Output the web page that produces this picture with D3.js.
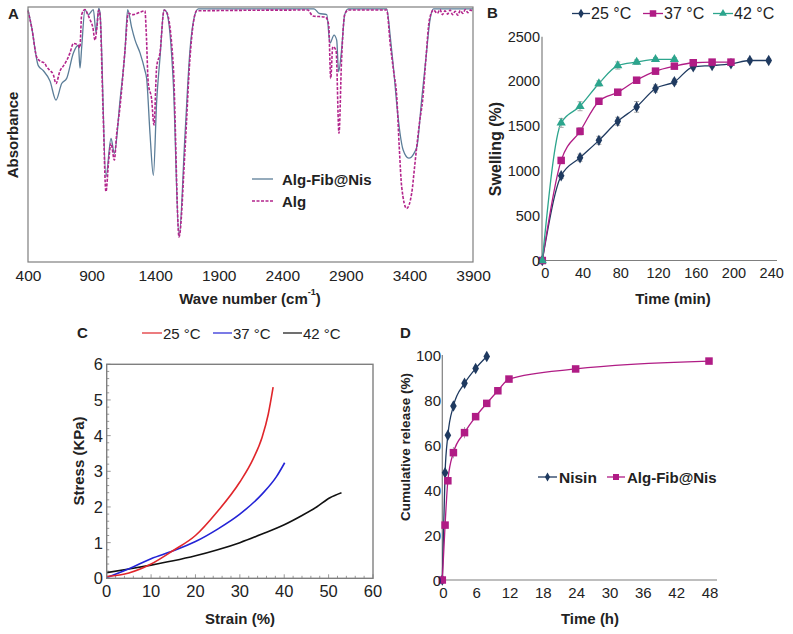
<!DOCTYPE html>
<html><head><meta charset="utf-8">
<script src="https://cdn.jsdelivr.net/npm/d3@7"></script>
<style>
body{margin:0;background:#fff;}
svg{display:block;font-family:"Liberation Sans",Arial,sans-serif;}
</style></head>
<body>
<svg id="chart" width="793" height="634"></svg>
<script>
// ---------- Panel A data (FTIR) ----------
const wnTicks = [400, 900, 1400, 1900, 2400, 2900, 3400, 3900];
const wnFib = [400,429,481,521,573,620,665,704,757,796,809,822,848,874,914,935,956,966,1013,1053,1079,1124,1163,1184,1215,1242,1281,1320,1333,1360,1386,1412,1438,1470,1490,1543,1588,1635,1674,1713,1740,2650,2690,2750,2775,2807,2828,2843,2866,2891,2919,3221,3250,3275,3300,3326,3350,3395,3440,3460,3496,3530,3562,3589,3900];
const absFib = [99,92,77,75,71,63.5,70,72,82,85,76,84,99,97,99,90,99.5,98,33.5,48.5,42.6,63.5,83,99,92,87,82,75,72,50,34,63,80,99,98,70,10,50,83,97,99.3,99.3,97.5,97,85.8,89,87,74.6,83,97,99.3,99.3,88,76,62,50.5,44,40.7,43,45.5,63.5,80,95,99.3,99.3];
const wnAlg = [400,429,468,490,507,530,547,575,599,620,652,680,704,730,757,796,808,822,848,870,888,910,927,942,956,966,990,1013,1035,1053,1079,1097,1124,1163,1189,1228,1281,1320,1330,1346,1372,1391,1412,1438,1470,1490,1543,1588,1635,1674,1727,2600,2640,2740,2765,2781,2797,2823,2846,2866,2891,2919,3221,3250,3275,3300,3320,3339,3378,3418,3440,3457,3480,3504,3530,3557,3589,3620,3640,3660,3680,3700,3720,3740,3760,3780,3800,3820,3840,3860,3880,3900];
const absAlg = [98.5,92,80.4,79,78.5,78,76.5,75,73.5,70,75,77,79,82,85.7,85,84,97,99,97,95,92,87,92,98.7,97,60,27.6,40,46.5,40,50,61,83,97.5,97,98,98.5,90,70,64,53.7,76.5,82,98.7,98,76.5,9.8,44,80,98.5,98.8,96.5,96,93,72,84.4,83,50.5,79,97,98.8,98.8,85,75,65,45,29.5,21,27,37,45,55,63.5,80,95,98.8,97.5,99,97,98.5,97.2,98.8,97,98.3,96.8,98.6,97.5,99,97.8,98.8,98];

// ---------- Panel B data (swelling) ----------
const swellTicksX = [0, 40, 80, 120, 160, 200, 240];
const swellTicksY = [0, 500, 1000, 1500, 2000, 2500];
const t25 = [0,20,40,60,80,100,120,140,160,180,200,220,240];
const sw25 = [0,946,1148,1342,1555,1716,1921,1996,2164,2178,2197,2234,2234];
const err25 = [0,30,40,45,45,60,40,30,25,20,20,20,20];
const t37 = [0,20,40,60,80,100,120,140,160,180,200];
const sw37 = [0,1118,1443,1779,1880,2014,2115,2171,2209,2216,2216];
const err37 = [0,30,40,30,30,30,30,25,25,25,25];
const t42 = [0,20,40,60,80,100,120,140];
const sw42 = [0,1537,1723,1977,2178,2216,2246,2246];
const err42 = [0,50,50,30,40,25,20,20];

// ---------- Panel C data (stress-strain) ----------
const strainTicks = [0, 10, 20, 30, 40, 50, 60];
const stressTicks = [0, 1, 2, 3, 4, 5, 6];
const strain25 = [0,5,10,15,20,25,30,33,35,36.4,37.5];
const stress25 = [0.05,0.15,0.4,0.78,1.2,1.88,2.7,3.35,3.95,4.6,5.36];
const strain37 = [0,5,10,15,20,25,30,35,38.25,40.1];
const stress37 = [0.02,0.27,0.55,0.77,1.03,1.38,1.8,2.36,2.85,3.24];
const strain42 = [0,5,10,15,20,25,30,35,40,44,47.3,50.3,52.9];
const stress42 = [0.16,0.26,0.37,0.49,0.63,0.8,1.0,1.24,1.5,1.76,2.0,2.26,2.4];

// ---------- Panel D data (release) ----------
const relTicksX = [0, 6, 12, 18, 24, 30, 36, 42, 48];
const relTicksY = [0, 20, 40, 60, 80, 100];
const tNis = [0,0.5,1,2,4,6,8];
const relNis = [0,47.7,64.3,77.3,87.4,94,99.3];
const errNis = [0,1,1,1,1,1,0.5];
const tFib = [0,0.5,1,2,4,6,8,10,12,24,48];
const relFib = [0,24.4,44.1,56.6,65.5,72.6,78.5,84.1,89.3,93.8,97.3];
const errFib = [0,1,1.5,2.5,2.5,1.5,1,1,1,0.5,0.5];

const svg = d3.select("#chart");
const FONT = '"Liberation Sans",Arial,sans-serif';
const gray = "#7f7f7f";
const C_NAVY = "#1f3a60", C_MAG = "#b01c85", C_TEAL = "#2ca58d";
const C_FIB = "#5b7d98", C_ALG = "#b3258c";

function txt(x, y, s, size, opts = {}) {
  const t = svg.append("text").attr("x", x).attr("y", y).text(s)
    .attr("font-size", size).attr("fill", opts.fill || "#222")
    .attr("font-weight", opts.bold ? "bold" : "normal")
    .attr("text-anchor", opts.anchor || "start")
    .attr("dominant-baseline", "central");
  if (opts.rotate) t.attr("transform", `rotate(-90,${x},${y})`);
  return t;
}
function zip(a, b) { return a.map((v, i) => [v, b[i]]); }

function marker(g, shape, x, y, color, size) {
  if (shape === "diamond") {
    g.append("path").attr("d", d3.symbol(d3.symbolDiamond, size * size * 0.9)())
      .attr("transform", `translate(${x},${y})`).attr("fill", color);
  } else if (shape === "square") {
    g.append("rect").attr("x", x - size / 2).attr("y", y - size / 2)
      .attr("width", size).attr("height", size).attr("fill", color);
  } else {
    g.append("path").attr("d", d3.symbol(d3.symbolTriangle, size * size * 0.75)())
      .attr("transform", `translate(${x},${y})`).attr("fill", color);
  }
}

// ================= Panel A =================
{
  const x = d3.scaleLinear().domain([400, 3900]).range([28, 473]);
  const y = d3.scaleLinear().domain([0, 100]).range([262, 7]);
  const line = d3.line().x(d => x(d[0])).y(d => y(d[1])).curve(d3.curveMonotoneX);
  const g = svg.append("g");
  g.append("path").datum(zip(wnFib, absFib)).attr("d", line)
    .attr("fill", "none").attr("stroke", C_FIB).attr("stroke-width", 1.3);
  g.append("path").datum(zip(wnAlg, absAlg)).attr("d", line)
    .attr("fill", "none").attr("stroke", C_ALG).attr("stroke-width", 1.6)
    .attr("stroke-dasharray", "3 1.5");
  g.append("rect").attr("x", 28).attr("y", 7).attr("width", 445).attr("height", 255)
    .attr("fill", "none").attr("stroke", gray).attr("stroke-width", 1.2);
  const ax = svg.append("g").attr("transform", "translate(0,262)")
    .call(d3.axisBottom(x).tickValues(wnTicks).tickFormat(d3.format("d")).tickSize(0).tickPadding(0));
  ax.select(".domain").remove();
  ax.selectAll("text").attr("font-size", 15.5).attr("font-family", FONT).attr("fill", "#222")
    .attr("dy", null).attr("y", 13).attr("dominant-baseline", "central");
  const tt = txt(250, 298, "Wave number (cm", 15, { bold: true, anchor: "middle" });
  tt.append("tspan").text("-1").attr("font-size", 9).attr("dy", -6);
  tt.append("tspan").text(")").attr("dy", 6);
  txt(12, 135, "Absorbance", 15, { bold: true, anchor: "middle", rotate: true });
  txt(8, 13, "A", 15, { bold: true });
  // legend
  svg.append("line").attr("x1", 252).attr("x2", 273).attr("y1", 179).attr("y2", 179)
    .attr("stroke", C_FIB).attr("stroke-width", 1.3);
  svg.append("line").attr("x1", 252).attr("x2", 273).attr("y1", 201).attr("y2", 201)
    .attr("stroke", C_ALG).attr("stroke-width", 1.6).attr("stroke-dasharray", "3 1.5");
  txt(282, 179, "Alg-Fib@Nis", 15, { bold: true });
  txt(282, 201, "Alg", 15, { bold: true });
}

// ================= Panel B =================
{
  const x = d3.scaleLinear().domain([0, 240]).range([542.3, 768.7]);
  const y = d3.scaleLinear().domain([0, 2500]).range([260.5, 36.7]);
  const line = d3.line().x(d => x(d[0])).y(d => y(d[1])).curve(d3.curveMonotoneX);
  const g = svg.append("g");
  g.append("line").attr("x1", 542).attr("x2", 542).attr("y1", 36.7).attr("y2", 260.5).attr("stroke", gray).attr("stroke-width", 1.2);
  g.append("line").attr("x1", 542).attr("x2", 777).attr("y1", 260.5).attr("y2", 260.5).attr("stroke", gray).attr("stroke-width", 1.2);
  const series = [
    { t: t25, v: sw25, e: err25, c: C_NAVY, s: "diamond", sz: 6.5 },
    { t: t37, v: sw37, e: err37, c: C_MAG, s: "square", sz: 7.5 },
    { t: t42, v: sw42, e: err42, c: C_TEAL, s: "triangle", sz: 7 },
  ];
  series.forEach(se => {
    g.append("path").datum(zip(se.t, se.v)).attr("d", line).attr("fill", "none")
      .attr("stroke", se.c).attr("stroke-width", 1.3);
    se.t.forEach((t, i) => {
      if (se.e[i] > 0) {
        g.append("line").attr("x1", x(t)).attr("x2", x(t)).attr("y1", y(se.v[i] - se.e[i])).attr("y2", y(se.v[i] + se.e[i]))
          .attr("stroke", "#aaa").attr("stroke-width", 1);
        [se.v[i] - se.e[i], se.v[i] + se.e[i]].forEach(vv =>
          g.append("line").attr("x1", x(t) - 2.5).attr("x2", x(t) + 2.5).attr("y1", y(vv)).attr("y2", y(vv))
            .attr("stroke", "#aaa").attr("stroke-width", 1));
      }
    });
    se.t.forEach((t, i) => marker(g, se.s, x(t), y(se.v[i]), se.c, se.sz));
  });
  swellTicksX.forEach(t => txt(x(t) + 3, 273, String(t), 14.5, { anchor: "middle" }));
  swellTicksY.forEach(v => txt(540, y(v), String(v), 14.5, { anchor: "end" }));
  txt(673, 298, "Time (min)", 15, { bold: true, anchor: "middle" });
  txt(495, 149, "Swelling (%)", 16, { bold: true, anchor: "middle", rotate: true });
  txt(487, 12, "B", 15, { bold: true });
  const leg = [
    { x1: 572, x2: 590, c: C_NAVY, s: "diamond", sz: 5.5, label: "25 °C" },
    { x1: 643, x2: 663, c: C_MAG, s: "square", sz: 6.5, label: "37 °C" },
    { x1: 713, x2: 733, c: C_TEAL, s: "triangle", sz: 6, label: "42 °C" },
  ];
  leg.forEach(l => {
    svg.append("line").attr("x1", l.x1).attr("x2", l.x2).attr("y1", 13.5).attr("y2", 13.5).attr("stroke", l.c).attr("stroke-width", 1.3);
    marker(svg, l.s, (l.x1 + l.x2) / 2, 13.5, l.c, l.sz);
    txt(l.x2 + 1, 13.5, l.label, 16);
  });
}

// ================= Panel C =================
{
  const x = d3.scaleLinear().domain([0, 60]).range([106.7, 373]);
  const y = d3.scaleLinear().domain([0, 6]).range([578.3, 364.3]);
  const line = d3.line().x(d => x(d[0])).y(d => y(d[1])).curve(d3.curveMonotoneX);
  const g = svg.append("g");
  d3.range(0, 60.01, 2).forEach(v => {
    const len = v % 10 === 0 ? 4 : 2.5;
    g.append("line").attr("x1", x(v)).attr("x2", x(v)).attr("y1", 578.3).attr("y2", 578.3 - len).attr("stroke", gray).attr("stroke-width", 0.8);
  });
  d3.range(0, 6.001, 0.2).forEach(v => {
    const len = Math.abs(v - Math.round(v)) < 1e-6 ? 4 : 2.5;
    g.append("line").attr("x1", 106.7).attr("x2", 106.7 + len).attr("y1", y(v)).attr("y2", y(v)).attr("stroke", gray).attr("stroke-width", 0.8);
  });
  g.append("path").datum(zip(strain42, stress42)).attr("d", line).attr("fill", "none").attr("stroke", "#111").attr("stroke-width", 1.6);
  g.append("path").datum(zip(strain37, stress37)).attr("d", line).attr("fill", "none").attr("stroke", "#2323d6").attr("stroke-width", 1.6);
  g.append("path").datum(zip(strain25, stress25)).attr("d", line).attr("fill", "none").attr("stroke", "#e0262b").attr("stroke-width", 1.6);
  g.append("rect").attr("x", 106.7).attr("y", 364.3).attr("width", 266.3).attr("height", 214)
    .attr("fill", "none").attr("stroke", gray).attr("stroke-width", 1.4);
  strainTicks.forEach(v => txt(x(v), 591, String(v), 16.5, { anchor: "middle" }));
  stressTicks.forEach(v => txt(103, y(v), String(v), 16.5, { anchor: "end" }));
  txt(240, 618, "Strain (%)", 15, { bold: true, anchor: "middle" });
  txt(78, 461, "Stress (KPa)", 15, { bold: true, anchor: "middle", rotate: true });
  txt(77, 332, "C", 15, { bold: true });
  const leg = [
    { x1: 142, x2: 162, c: "#e0262b", label: "25 °C" },
    { x1: 213, x2: 232, c: "#2323d6", label: "37 °C" },
    { x1: 283, x2: 302, c: "#111", label: "42 °C" },
  ];
  leg.forEach(l => {
    svg.append("line").attr("x1", l.x1).attr("x2", l.x2).attr("y1", 333).attr("y2", 333).attr("stroke", l.c).attr("stroke-width", 1.2);
    txt(l.x2 + 1, 333, l.label, 15);
  });
}

// ================= Panel D =================
{
  const x = d3.scaleLinear().domain([0, 48]).range([442.3, 709]);
  const y = d3.scaleLinear().domain([0, 100]).range([580, 355]);
  const line = d3.line().x(d => x(d[0])).y(d => y(d[1])).curve(d3.curveMonotoneX);
  const g = svg.append("g");
  g.append("line").attr("x1", 442.3).attr("x2", 442.3).attr("y1", 355).attr("y2", 580).attr("stroke", gray).attr("stroke-width", 1.2);
  g.append("line").attr("x1", 442.3).attr("x2", 717).attr("y1", 580).attr("y2", 580).attr("stroke", gray).attr("stroke-width", 1.2);
  const series = [
    { t: tNis, v: relNis, e: errNis, c: C_NAVY, s: "diamond", sz: 6.5 },
    { t: tFib, v: relFib, e: errFib, c: C_MAG, s: "square", sz: 7.5 },
  ];
  series.forEach(se => {
    g.append("path").datum(zip(se.t, se.v)).attr("d", line).attr("fill", "none")
      .attr("stroke", se.c).attr("stroke-width", 1.3);
    se.t.forEach((t, i) => {
      if (se.e[i] > 0) {
        g.append("line").attr("x1", x(t)).attr("x2", x(t)).attr("y1", y(se.v[i] - se.e[i])).attr("y2", y(se.v[i] + se.e[i]))
          .attr("stroke", "#aaa").attr("stroke-width", 1);
      }
    });
    se.t.forEach((t, i) => marker(g, se.s, x(t), y(se.v[i]), se.c, se.sz));
  });
  relTicksX.forEach(t => txt(x(t) + 1, 592, String(t), 15, { anchor: "middle" }));
  relTicksY.forEach(v => txt(441, y(v), String(v), 15, { anchor: "end" }));
  txt(590, 618, "Time (h)", 15, { bold: true, anchor: "middle" });
  txt(405, 447, "Cumulative release (%)", 13.5, { bold: true, anchor: "middle", rotate: true });
  txt(400, 332, "D", 15, { bold: true });
  svg.append("line").attr("x1", 538).attr("x2", 557).attr("y1", 477).attr("y2", 477).attr("stroke", C_NAVY).attr("stroke-width", 1.3);
  marker(svg, "diamond", 547.5, 477, C_NAVY, 5);
  txt(559, 477, "Nisin", 15.5, { bold: true });
  svg.append("line").attr("x1", 607).attr("x2", 625).attr("y1", 477).attr("y2", 477).attr("stroke", C_MAG).attr("stroke-width", 1.3);
  marker(svg, "square", 616, 477, C_MAG, 6);
  txt(627, 477, "Alg-Fib@Nis", 15, { bold: true });
}
</script>
</body></html>
